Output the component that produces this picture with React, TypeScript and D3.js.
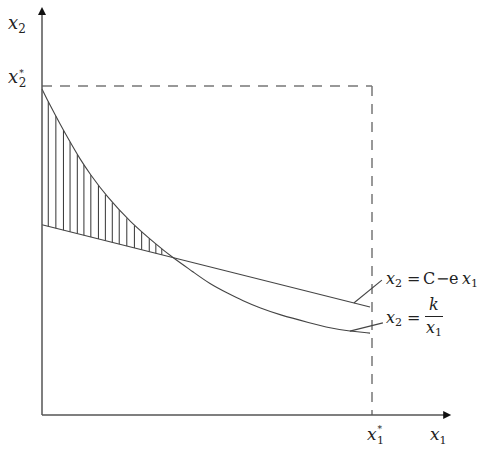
import React from "react";
import * as d3 from "d3";

// Curve x2 = k / x1 (data units 0..100 where 100 = x1*, x2*)
const curveX = [0, 2.4, 5.5, 8.5, 11.5, 14.5, 19.7, 26.7, 34.8, 39.4, 45.8, 50.9, 56.1, 60.9, 66.1, 72.1, 81.2, 87.3, 93.3, 99.4];
const curveY = [99.1, 94.2, 88.4, 83.0, 77.8, 73.3, 66.3, 58.7, 51.7, 48.0, 43.5, 39.8, 37.1, 34.7, 32.5, 30.4, 28.0, 26.4, 25.5, 24.9];
// Line x2 = C - e x1
const lineX = [0, 99.4];
const lineY = [57.8, 32.8];
// Hatch positions
const hatchX = [1.9, 4.2, 6.5, 8.5, 10.7, 12.7, 14.8, 17.1, 19.2, 21.3, 23.4, 25.7, 28.0, 30.2, 32.5, 34.5, 36.3];
const starX = 100;
const starY = 100;
const axisMax = 124;
// leader lines: from x on curve to label anchor
const leaderLineFrom = 94.5;
const leaderLineTo = [103, 41];
const leaderCurveFrom = 93.3;
const leaderCurveTo = [103.3, 28];

const W = 486;
const H = 450;

export default function App() {
  const x = d3.scaleLinear().domain([0, 100]).range([42, 372]);
  const y = d3.scaleLinear().domain([0, 100]).range([415, 86]);

  const curvePts: [number, number][] = curveX.map((v, i) => [v, curveY[i]]);
  const linePts: [number, number][] = lineX.map((v, i) => [v, lineY[i]]);

  const curveGen = d3
    .line<[number, number]>()
    .x((d) => x(d[0]))
    .y((d) => y(d[1]))
    .curve(d3.curveBasis);
  const lineGen = d3
    .line<[number, number]>()
    .x((d) => x(d[0]))
    .y((d) => y(d[1]));

  const curveAt = d3.scaleLinear().domain(curveX).range(curveY);
  const lineAt = d3.scaleLinear().domain(lineX).range(lineY);

  const stroke = "#444";
  const axisColor = "#555";
  const dashColor = "#777";
  const font = "'DejaVu Serif', serif";

  const x0 = x(0);
  const y0 = y(0);
  const yTop = y(axisMax);
  const xRight = x(axisMax);

  return (
    <svg
      width={W}
      height={H}
      style={{ position: "absolute", left: 0, top: 0, background: "#fff" }}
    >
      {/* dashed reference lines */}
      <line x1={x0} y1={y(starY)} x2={x(starX)} y2={y(starY)} stroke={dashColor} strokeWidth={1.5} strokeDasharray="10,8" />
      <line x1={x(starX)} y1={y(starY)} x2={x(starX)} y2={y0} stroke={dashColor} strokeWidth={1.5} strokeDasharray="10,8" />

      {/* hatch */}
      {hatchX.map((hx, i) => (
        <line key={i} x1={x(hx)} x2={x(hx)} y1={y(curveAt(hx))} y2={y(lineAt(hx))} stroke="#333" strokeWidth={1} />
      ))}

      {/* curves */}
      <path d={curveGen(curvePts) || ""} fill="none" stroke={stroke} strokeWidth={1.1} />
      <path d={lineGen(linePts) || ""} fill="none" stroke={stroke} strokeWidth={1.1} />

      {/* leaders */}
      <line x1={x(leaderLineFrom)} y1={y(lineAt(leaderLineFrom))} x2={x(leaderLineTo[0])} y2={y(leaderLineTo[1])} stroke={stroke} strokeWidth={1.1} />
      <line x1={x(leaderCurveFrom)} y1={y(curveAt(leaderCurveFrom))} x2={x(leaderCurveTo[0])} y2={y(leaderCurveTo[1])} stroke={stroke} strokeWidth={1.1} />

      {/* axes */}
      <line x1={x0} y1={y0} x2={x0} y2={yTop + 6} stroke={axisColor} strokeWidth={1.5} />
      <line x1={x0} y1={y0} x2={xRight - 6} y2={y0} stroke={axisColor} strokeWidth={1.5} />
      <polygon points={`${x0},${yTop} ${x0 - 4},${yTop + 8} ${x0 + 4},${yTop + 8}`} fill="#111" />
      <polygon points={`${xRight},${y0} ${xRight - 8},${y0 - 4} ${xRight - 8},${y0 + 4}`} fill="#111" />

      {/* labels */}
      <g fontFamily={font} fill="#222">
        <text x={8} y={29} fontSize={18} fontStyle="italic">x<tspan fontSize={12} dy={4} fontStyle="normal">2</tspan></text>
        <text x={8} y={83} fontSize={18} fontStyle="italic">x<tspan fontSize={9} dx={1} dy={-7} fontStyle="normal">*</tspan><tspan fontSize={12} dx={-5} dy={11} fontStyle="normal">2</tspan></text>

        <text x={367} y={440} fontSize={17} fontStyle="italic">x<tspan fontSize={9} dx={1} dy={-8} fontStyle="normal">*</tspan><tspan fontSize={11} dx={-5} dy={12} fontStyle="normal">1</tspan></text>
        <text x={430} y={440} fontSize={17} fontStyle="italic">x<tspan fontSize={11} dy={4} fontStyle="normal">1</tspan></text>

        <text x={386} y={284} fontSize={16} fontStyle="italic">x<tspan fontSize={11} dy={3} fontStyle="normal">2</tspan></text>
        <text x={407} y={284} fontSize={16}>=</text>
        <text x={423} y={284} fontSize={16}>C</text>
        <text x={436} y={284} fontSize={16}>−</text>
        <text x={449} y={284} fontSize={16}>e</text>
        <text x={462} y={284} fontSize={16} fontStyle="italic">x<tspan fontSize={11} dy={3} fontStyle="normal">1</tspan></text>

        <text x={386} y={323} fontSize={16} fontStyle="italic">x<tspan fontSize={11} dy={3} fontStyle="normal">2</tspan></text>
        <text x={407} y={323} fontSize={16}>=</text>
        <text x={429} y={310} fontSize={16} fontStyle="italic">k</text>
        <line x1={425} x2={443} y1={316.5} y2={316.5} stroke="#222" strokeWidth={1} />
        <text x={426} y={333} fontSize={16} fontStyle="italic">x<tspan fontSize={11} dy={3} fontStyle="normal">1</tspan></text>
      </g>
    </svg>
  );
}
